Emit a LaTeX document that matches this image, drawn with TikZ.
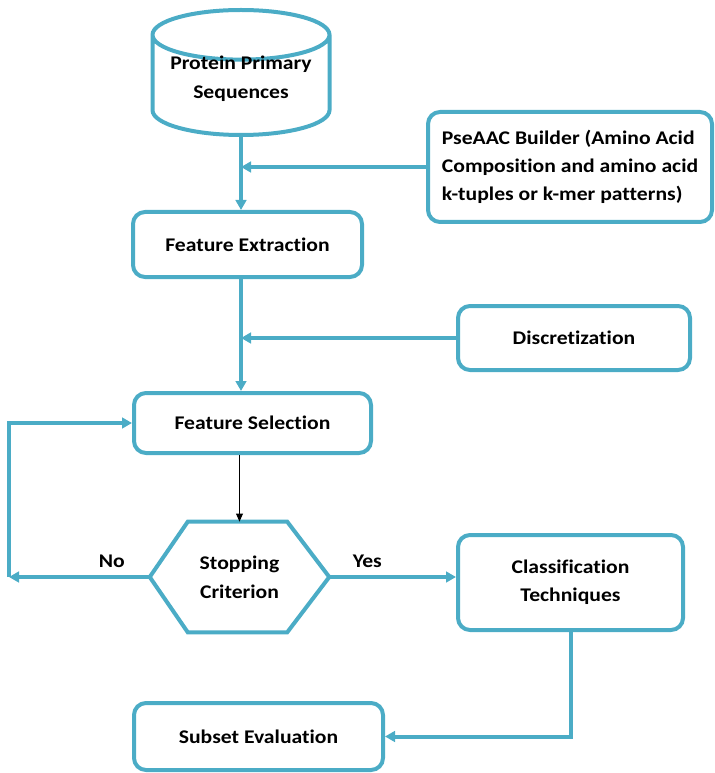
\documentclass[tikz,border=0pt]{standalone}
\usepackage{fontspec}
\setmainfont{Carlito}[Ligatures=NoCommon, FakeStretch=1.12]
\usepackage{tikz}
\usetikzlibrary{positioning,arrows.meta,calc,shapes.geometric}
\definecolor{flowblue}{HTML}{4BACC6}

\begin{document}
\begin{tikzpicture}[
  x=0.75pt, y=-0.75pt,
  box/.style={draw=flowblue, line width=3pt, rounded corners=9pt, align=center, font=\bfseries\fontsize{14.5}{21}\selectfont, inner sep=3pt},
  arr/.style={-{Triangle[length=7.5pt, width=8pt]}, draw=flowblue, line width=3pt},
  lbl/.style={font=\bfseries\fontsize{14.5}{17}\selectfont}
]
\useasboundingbox (0,0) rectangle (714,773);
\node[draw=flowblue, line width=3pt, shape=cylinder, shape border rotate=90, aspect=0.33,
  minimum width=132.75pt, minimum height=93.75pt, anchor=shape center,
  font=\bfseries\fontsize{14.5}{21.75}\selectfont] (seq) at (241,72.5)
  {\raisebox{8.25pt}[12pt][5pt]{\begin{tabular}{@{}c@{}}Protein Primary\\Sequences\end{tabular}}};
\node[box, minimum width=213pt, minimum height=82.5pt, align=left] (builder) at (570,167)
  {PseAAC Builder (Amino Acid\\Composition and  amino acid\\k-tuples or k-mer patterns)};
\node[box, minimum width=171.75pt, minimum height=48.75pt] (extract) at (247.5,244.5) {Feature Extraction};
\node[box, minimum width=174pt, minimum height=48pt] (discret) at (574,338) {Discretization};
\node[box, minimum width=177.75pt, minimum height=45pt] (select) at (252.5,423) {Feature Selection};
\node[align=center, minimum width=134.25pt, minimum height=82.5pt,
  font=\bfseries\fontsize{14.5}{21.75}\selectfont] (stop) at (239.5,577) {Stopping\\Criterion};
\draw[flowblue, line width=3pt, line join=miter]
  (stop.west) -- ($(stop.north west)+(38,0)$) -- ($(stop.north east)+(-42,0)$)
  -- (stop.east) -- ($(stop.south east)+(-42,0)$) -- ($(stop.south west)+(38,0)$) -- cycle;
\node[box, minimum width=168.75pt, minimum height=71.25pt] (classify) at (570.5,582.5) {Classification\\Techniques};
\node[box, minimum width=186.75pt, minimum height=50.25pt] (subset) at (258.5,736.5) {Subset Evaluation};
\coordinate (back) at (9,577);

% main spine
\draw[arr] (seq.south) -- (seq.south |- extract.north);
\draw[arr] (builder.west) -- (builder.west -| seq.south);
\draw[arr] (extract.south -| seq.south) -- (seq.south |- select.north);
\draw[arr] (discret.west) -- (discret.west -| seq.south);
\draw[-{Triangle[length=6pt, width=5pt]}, line width=0.9pt] (select.south -| stop.north) -- (stop.north);

% decision
\draw[arr] (stop.west) -- (back) node[lbl, pos=0.27, above=2pt] {No};
\draw[arr, line join=miter] (back) |- (select.west);
\draw[arr] (stop.east) -- (stop.east -| classify.west) node[lbl, pos=0.3, above=2pt] {Yes};
\draw[arr, line join=miter] (classify.south) |- (subset.east);
\end{tikzpicture}
\end{document}
